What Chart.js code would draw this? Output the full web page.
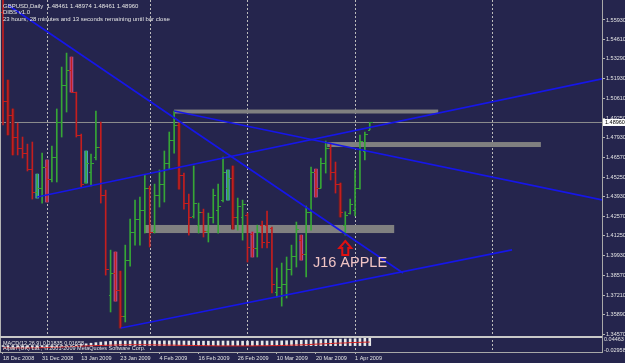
<!DOCTYPE html>
<html>
<head>
<meta charset="utf-8">
<script src="https://cdn.jsdelivr.net/npm/chart.js@4.4.1/dist/chart.umd.min.js"></script>
<style>
  html, body { margin: 0; padding: 0; background: #25254d; }
  canvas { display: block; }
</style>
</head>
<body>
<canvas id="chart" width="625" height="363"></canvas>
<script>
// GBPUSD daily bars, 18 Dec 2008 .. 3 Apr 2009 (index = bar number)
const opens = [
  1.5650, 1.5040, 1.4950, 1.4800, 1.4720, 1.4690, 1.4580, 1.4420, 1.4450, 1.4590,
  1.4510, 1.4660, 1.4900, 1.5150, 1.5250, 1.5100, 1.4810, 1.4490, 1.4560, 1.4660,
  1.4730, 1.4400, 1.3720, 1.3870, 1.3760, 1.3580, 1.3960, 1.4150, 1.4240, 1.4300,
  1.4450, 1.4160, 1.4400, 1.4480, 1.4620, 1.4780, 1.4880, 1.4540, 1.4350, 1.4260,
  1.4200, 1.4290, 1.4160, 1.4250, 1.4300, 1.4370, 1.4450, 1.4520, 1.4250, 1.4250,
  1.4270, 1.4140, 1.4040, 1.4200, 1.4200, 1.4180, 1.3740, 1.3780, 1.3800, 1.3900,
  1.3990, 1.4100, 1.4000, 1.4290, 1.4560, 1.4450, 1.4620, 1.4720, 1.4560, 1.4480,
  1.4200, 1.4280, 1.4300, 1.4450, 1.4700, 1.48461
];
const highs = [
  1.5790, 1.5185, 1.4988, 1.4892, 1.4797, 1.4749, 1.4763, 1.4545, 1.4688, 1.4641,
  1.4736, 1.4988, 1.5273, 1.5368, 1.5341, 1.5103, 1.4817, 1.4702, 1.4681, 1.4974,
  1.4899, 1.4436, 1.4028, 1.4015, 1.3885, 1.4062, 1.4239, 1.4368, 1.4389, 1.4539,
  1.4464, 1.4477, 1.4573, 1.4702, 1.4831, 1.4974, 1.4892, 1.4552, 1.4409, 1.4600,
  1.4348, 1.4307, 1.4280, 1.4443, 1.4477, 1.4661, 1.4573, 1.4600, 1.4382, 1.4368,
  1.4280, 1.4151, 1.4198, 1.4226, 1.4294, 1.4185, 1.3906, 1.3940, 1.3981, 1.4062,
  1.4219, 1.4130, 1.4328, 1.4593, 1.4579, 1.4654, 1.4770, 1.4756, 1.4627, 1.4484,
  1.4289, 1.4375, 1.4573, 1.4811, 1.4831, 1.48974
];
const lows = [
  1.4879, 1.4811, 1.4675, 1.4675, 1.4654, 1.4566, 1.4375, 1.4382, 1.4348, 1.4355,
  1.4491, 1.4491, 1.4797, 1.4967, 1.5103, 1.4797, 1.4457, 1.4484, 1.4464, 1.4641,
  1.4348, 1.3858, 1.3607, 1.3681, 1.3498, 1.3539, 1.3919, 1.4062, 1.4062, 1.4144,
  1.4049, 1.4144, 1.4321, 1.4355, 1.4579, 1.4688, 1.4443, 1.4307, 1.4130, 1.4246,
  1.4144, 1.4117, 1.4083, 1.4212, 1.4144, 1.4355, 1.4368, 1.4171, 1.4164, 1.4096,
  1.3947, 1.3981, 1.3981, 1.4042, 1.4042, 1.3736, 1.3709, 1.3647, 1.3702, 1.3858,
  1.3913, 1.3960, 1.3845, 1.4164, 1.4389, 1.4450, 1.4552, 1.4505, 1.4416, 1.4253,
  1.4130, 1.4273, 1.4260, 1.4443, 1.4641, 1.48461
];
const closes = [
  1.5040, 1.4950, 1.4800, 1.4720, 1.4690, 1.4580, 1.4420, 1.4450, 1.4590, 1.4510,
  1.4660, 1.4900, 1.5150, 1.5250, 1.5105, 1.4810, 1.4480, 1.4620, 1.4620, 1.4730,
  1.4400, 1.3900, 1.3870, 1.3760, 1.3580, 1.3960, 1.4150, 1.4240, 1.4300, 1.4450,
  1.4150, 1.4400, 1.4480, 1.4620, 1.4780, 1.4880, 1.4540, 1.4350, 1.4250, 1.4350,
  1.4290, 1.4160, 1.4250, 1.4400, 1.4330, 1.4560, 1.4520, 1.4250, 1.4330, 1.4340,
  1.4050, 1.4040, 1.4150, 1.4080, 1.4080, 1.3800, 1.3780, 1.3800, 1.3900, 1.3990,
  1.4170, 1.4000, 1.4290, 1.4560, 1.4450, 1.4620, 1.4720, 1.4560, 1.4480, 1.4290,
  1.4270, 1.4340, 1.4450, 1.4770, 1.4820, 1.48960
];

// bars painted by the DIBS indicator (m = maroon, p = pink, c = cyan)
const dibsIdx  = [1, 2, 7, 9, 14, 17, 23, 24, 36, 46, 47, 51, 61, 64, 69];
const dibsType = ['m', 'm', 'c', 'p', 'p', 'c', 'p', 'm', 'm', 'c', 'm', 'p', 'p', 'p', 'm'];

// MACD panel
const macdHist = [
  -0.006, -0.008, -0.010, -0.012, -0.013, -0.014, -0.015, -0.015, -0.014, -0.013,
  -0.011, -0.009, -0.006, -0.003, 0.000, 0.004, 0.008, 0.012, 0.016, 0.020,
  0.024, 0.027, 0.029, 0.030, 0.031, 0.031, 0.032, 0.032, 0.032, 0.033,
  0.032, 0.032, 0.031, 0.032, 0.032, 0.033, 0.032, 0.031, 0.031, 0.030,
  0.030, 0.030, 0.030, 0.030, 0.031, 0.031, 0.031, 0.031, 0.031, 0.030,
  0.030, 0.030, 0.030, 0.031, 0.031, 0.031, 0.032, 0.032, 0.033, 0.034,
  0.035, 0.036, 0.037, 0.038, 0.039, 0.040, 0.041, 0.042, 0.043, 0.044,
  0.045, 0.046, 0.047, 0.048, 0.049, 0.050
];
const macdSignal = [
  -0.015, -0.015, -0.016, -0.016, -0.016, -0.016, -0.015, -0.015, -0.014, -0.013,
  -0.012, -0.011, -0.010, -0.008, -0.007, -0.005, -0.004, -0.002, -0.001, 0.000,
  0.001, 0.002, 0.003, 0.004, 0.005, 0.005, 0.006, 0.006, 0.006, 0.006,
  0.005, 0.005, 0.004, 0.004, 0.003, 0.003, 0.002, 0.002, 0.001, 0.001,
  0.000, 0.000, -0.001, -0.001, -0.002, -0.002, -0.002, -0.002, -0.002, -0.002,
  -0.002, -0.002, -0.001, -0.001, -0.001, 0.000, 0.000, 0.001, 0.002, 0.003,
  0.004, 0.005, 0.006, 0.008, 0.010, 0.011, 0.013, 0.014, 0.016, 0.017,
  0.018, 0.020, 0.021, 0.022, 0.023, 0.024
];
const macdTicks = [-0.02958, 0.04463];
const macdRange = [-0.0431, 0.0581];

// axes
const dateTicks  = [0, 8, 16, 24, 32, 40, 48, 56, 64, 72];
const dateLabels = ['18 Dec 2008', '31 Dec 2008', '13 Jan 2009', '23 Jan 2009', '4 Feb 2009',
                    '16 Feb 2009', '26 Feb 2009', '10 Mar 2009', '20 Mar 2009', '1 Apr 2009'];
const priceTicks = [1.55930, 1.54610, 1.53290, 1.51930, 1.50610, 1.49250, 1.47930, 1.46570, 1.45250,
                    1.43930, 1.42570, 1.41250, 1.39930, 1.38570, 1.37210, 1.35890, 1.34570];
const monthLines = [9, 30, 50, 72, 100];
const lastPrice = 1.48960;

// drawn objects: [bar1, price1, bar2, price2]
const trendLines = [
  [1.0, 1.5695, 81.8, 1.3872],
  [24.1, 1.3498, 104.1, 1.4030],
  [6.95, 1.4389, 122.5, 1.5192],
  [35.0, 1.4974, 122.5, 1.4369]
];
// rectangles: [bar1, bar2, topPrice, bottomPrice]
const zones = [
  [35.0, 89.0, 1.4984, 1.4957],
  [66.3, 110.0, 1.4763, 1.4729],
  [29.0, 80.0, 1.4199, 1.4144]
];
const noteText = 'J16 APPLE';
const noteBar = 70.96, notePrice = 1.3943;
const arrowBar = 70.0, arrowPrice = 1.4090;

const headerLines = [
  'GBPUSD,Daily  1.48461 1.48974 1.48461 1.48960',
  'DIBS v1.0',
  '23 hours, 28 minutes and 13 seconds remaining until bar close'
];
const panelLines = [
  'MACD(12,26,9) 0.01835 0.01658',
  'Alpari (UK) Ltd., \u00a9 2001-2009 MetaQuotes Software Corp.'
];

const bg = '#25254d';
const upColor = '#36a636';
const downColor = '#c41e1e';
const dibsColors = { m: '#5e1e2a', p: '#b2559c', c: '#4c9fc6' };
const font = 'Liberation Sans';

Chart.defaults.font.family = font;

const barColor = i => closes[i] >= opens[i] ? upColor : downColor;

const rangeData = highs.map((h, i) => ({ x: i, y: [lows[i], h] }));
const dibsData = dibsIdx.map(i => ({ x: i, y: [lows[i], highs[i]] }));

const background = {
  id: 'background',
  beforeDraw(chart) {
    const c = chart.ctx;
    c.save();
    c.fillStyle = bg;
    c.fillRect(0, 0, chart.width, chart.height);
    c.restore();
  }
};

const backdrop = {
  id: 'backdrop',
  beforeDatasetsDraw(chart) {
    const { ctx, chartArea, scales: { x, y } } = chart;
    ctx.save();
    ctx.strokeStyle = '#bcbcbc';
    ctx.lineWidth = 1;
    ctx.setLineDash([2, 2]);
    monthLines.forEach(i => {
      const px = Math.round(x.getPixelForValue(i)) + 0.5;
      ctx.beginPath();
      ctx.moveTo(px, chartArea.top);
      ctx.lineTo(px, chartArea.bottom);
      ctx.stroke();
    });
    ctx.setLineDash([]);
    ctx.fillStyle = '#808080';
    zones.forEach(z => {
      const x1 = x.getPixelForValue(z[0]), x2 = x.getPixelForValue(z[1]);
      const y1 = y.getPixelForValue(z[2]), y2 = y.getPixelForValue(z[3]);
      ctx.fillRect(x1, y1, x2 - x1, y2 - y1);
    });
    ctx.restore();
  }
};

// open tick to the left, close tick to the right
const ohlcTicks = {
  id: 'ohlcTicks',
  afterDatasetsDraw(chart) {
    const { ctx, scales: { x, y } } = chart;
    ctx.save();
    ctx.beginPath();
    ctx.rect(x.left, y.top, x.right - x.left, y.bottom - y.top);
    ctx.clip();
    ctx.lineWidth = 1;
    opens.forEach((o, i) => {
      const px = Math.round(x.getPixelForValue(i));
      const yo = Math.round(y.getPixelForValue(o)) + 0.5;
      const yc = Math.round(y.getPixelForValue(closes[i])) + 0.5;
      ctx.strokeStyle = barColor(i);
      ctx.beginPath();
      ctx.moveTo(px - 2, yo); ctx.lineTo(px, yo);
      ctx.moveTo(px, yc); ctx.lineTo(px + 3, yc);
      ctx.stroke();
    });
    ctx.restore();
  }
};

const overlay = {
  id: 'overlay',
  afterDraw(chart) {
    const { ctx, chartArea, scales: { x, y, m } } = chart;
    ctx.save();
    // frame and panel separator
    ctx.fillStyle = '#b4b4b4';
    ctx.fillRect(0, 0, 1, chartArea.bottom);
    ctx.fillStyle = '#c8c8c8';
    ctx.fillRect(0, y.bottom - 1, chartArea.right, 2);

    ctx.fillStyle = '#e4e4e4';
    ctx.textBaseline = 'middle';
    ctx.textAlign = 'left';
    ctx.font = '6px "' + font + '"';
    headerLines.forEach((t, k) => ctx.fillText(t, 3, 6 + k * 6.6));
    ctx.font = '5.5px "' + font + '"';
    panelLines.forEach((t, k) => ctx.fillText(t, 3, m.top + 6 + k * 5));

    // note and arrow
    const ax = x.getPixelForValue(arrowBar), ay = y.getPixelForValue(arrowPrice);
    ctx.strokeStyle = '#e01010';
    ctx.lineWidth = 2;
    ctx.beginPath();
    ctx.moveTo(ax, ay);
    ctx.lineTo(ax + 6, ay + 7);
    ctx.lineTo(ax + 3, ay + 7);
    ctx.lineTo(ax + 3, ay + 14);
    ctx.lineTo(ax - 3, ay + 14);
    ctx.lineTo(ax - 3, ay + 7);
    ctx.lineTo(ax - 6, ay + 7);
    ctx.closePath();
    ctx.stroke();
    ctx.fillStyle = '#f0c4c4';
    ctx.textAlign = 'center';
    ctx.font = '14.5px "' + font + '"';
    ctx.fillText(noteText, x.getPixelForValue(noteBar), y.getPixelForValue(notePrice));

    // current price box
    const py = y.getPixelForValue(lastPrice);
    ctx.fillStyle = '#ffffff';
    ctx.fillRect(chartArea.right + 1, py - 3.5, 25, 7);
    ctx.fillStyle = '#000000';
    ctx.textAlign = 'left';
    ctx.font = '5.5px "' + font + '"';
    ctx.fillText(lastPrice.toFixed(5), chartArea.right + 3, py);
    ctx.restore();
  }
};

const datasets = [
  {
    type: 'bar', label: 'range', data: rangeData, xAxisID: 'x', yAxisID: 'y',
    backgroundColor: rangeData.map((d, i) => barColor(i)),
    barThickness: 1, grouped: false, order: 2
  },
  {
    type: 'bar', label: 'dibs', data: dibsData, xAxisID: 'x', yAxisID: 'y',
    backgroundColor: dibsType.map(t => dibsColors[t]),
    barThickness: 3, grouped: false, order: 3
  },
  {
    type: 'line', label: 'last', xAxisID: 'x', yAxisID: 'y',
    data: [{ x: -0.613, y: lastPrice }, { x: 122.5, y: lastPrice }],
    borderColor: '#8e8e8e', borderWidth: 1, pointRadius: 0, order: 5
  },
  ...trendLines.map((t, k) => ({
    type: 'line', label: 'trend' + k, xAxisID: 'x', yAxisID: 'y',
    data: [{ x: t[0], y: t[1] }, { x: t[2], y: t[3] }],
    borderColor: '#1616e8', borderWidth: 1.7, pointRadius: 0, order: 0
  })),
  {
    type: 'bar', label: 'macd', xAxisID: 'x', yAxisID: 'm',
    data: macdHist.map((v, i) => ({ x: i, y: v })),
    backgroundColor: '#e8e8e8', barThickness: 2, grouped: false, order: 2
  },
  {
    type: 'line', label: 'signal', xAxisID: 'x', yAxisID: 'm',
    data: macdSignal.map((v, i) => ({ x: i, y: v })),
    borderColor: '#d42020', borderWidth: 1, pointRadius: 0, order: 1
  }
];

const noPad = s => { s.paddingTop = 0; s.paddingBottom = 0; s.paddingLeft = 0; s.paddingRight = 0; };

new Chart(document.getElementById('chart'), {
  type: 'bar',
  data: { datasets },
  options: {
    responsive: false,
    animation: false,
    events: [],
    layout: { padding: 0 },
    plugins: { legend: { display: false }, tooltip: { enabled: false } },
    scales: {
      x: {
        type: 'linear', position: 'bottom', min: -0.613, max: 122.5, offset: false,
        afterBuildTicks: s => { s.ticks = dateTicks.map(v => ({ value: v })); },
        afterFit: s => { s.height = 11; noPad(s); },
        ticks: {
          autoSkip: false, maxRotation: 0, align: 'start', padding: 1,
          color: '#e4e4e4', font: { size: 5.5 },
          callback: v => dateLabels[dateTicks.indexOf(v)]
        },
        grid: { offset: false, drawOnChartArea: false, tickLength: 2, color: '#b4b4b4' },
        border: { display: true, color: '#a8a8a8' }
      },
      y: {
        type: 'linear', position: 'right', stack: 'panes', stackWeight: 337,
        min: 1.3437, max: 1.5729,
        afterBuildTicks: s => { s.ticks = priceTicks.map(v => ({ value: v })); },
        afterFit: s => { s.width = 23; noPad(s); },
        ticks: { autoSkip: false, color: '#e4e4e4', font: { size: 5.5 }, padding: 1, callback: v => v.toFixed(5) },
        grid: { drawOnChartArea: false, tickLength: 3, color: '#b4b4b4' },
        border: { display: true, color: '#a8a8a8' }
      },
      m: {
        type: 'linear', position: 'right', stack: 'panes', stackWeight: 15,
        min: macdRange[0], max: macdRange[1],
        afterBuildTicks: s => { s.ticks = macdTicks.map(v => ({ value: v })); },
        afterFit: s => { s.width = 23; noPad(s); },
        ticks: { autoSkip: false, color: '#e4e4e4', font: { size: 5.5 }, padding: 1, callback: v => v.toFixed(5) },
        grid: { drawOnChartArea: false, tickLength: 1, color: '#b4b4b4' },
        border: { display: true, color: '#a8a8a8' }
      }
    }
  },
  plugins: [background, backdrop, ohlcTicks, overlay]
});
</script>
</body>
</html>
